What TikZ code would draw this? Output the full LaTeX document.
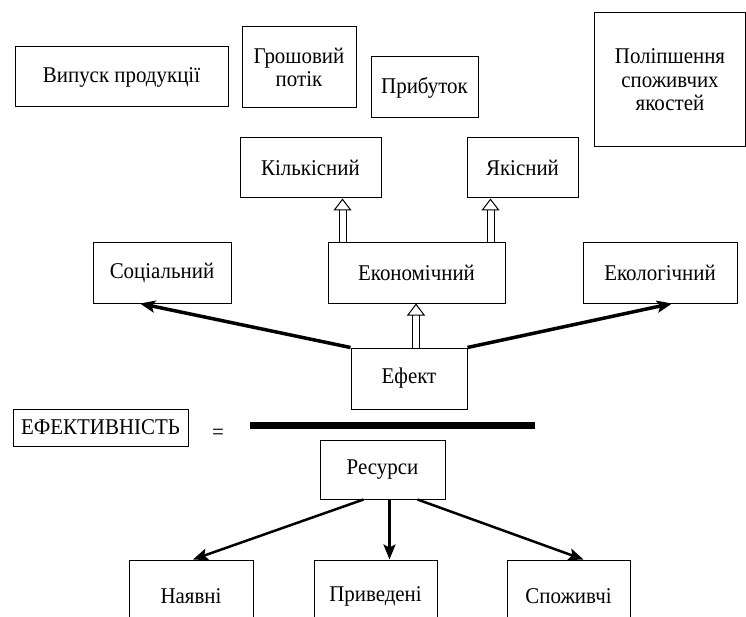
\documentclass[tikz,border=0pt]{standalone}
\usepackage{fontspec}
\setmainfont[FakeStretch=0.93]{Liberation Serif}
\usetikzlibrary{arrows.meta}

\begin{document}
\begin{tikzpicture}[x=1pt,y=-1pt,
  box/.style={draw,line width=1pt,inner sep=0pt,align=center,font=\fontsize{22.5}{23.5}\selectfont},
  big arrow/.style={line width=3.5pt,-{Stealth[length=15pt,width=12pt,inset=3pt]}},
  thin arrow/.style={line width=2.5pt,-{Stealth[length=15pt,width=12pt,inset=3pt]}},
  hollow arrow/.style={double,double distance=6pt,line width=1pt,
    -{Triangle[open,length=12pt,width=18pt,line width=1pt]}}]
  \useasboundingbox (0,0) rectangle (746,617);
  \clip (0,0) rectangle (746,617);
  %top row
  \node[box,minimum width=213,minimum height=60] (vypusk) at (121.5,77) {Випуск продукції};
  \node[box,minimum width=114,minimum height=81] (potik) at (299,67.5) {Грошовий\\потік};
  \node[box,minimum width=107,minimum height=61] (prybutok) at (424.5,87.5) {Прибуток};
  \node[box,minimum width=151,minimum height=134] (yakosti) at (670,80) {Поліпшення\\споживчих\\якостей};
  %economic effect
  \node[box,minimum width=141,minimum height=60] (kilk) at (310.5,168) {Кількісний};
  \node[box,minimum width=111,minimum height=60] (yak) at (522.5,168) {Якісний};
  \node[box,minimum width=138,minimum height=60] (soc) at (162,273) {Соціальний};
  \node[box,minimum width=177,minimum height=60] (econ) at (416.5,273) {Економічний};
  \node[box,minimum width=154,minimum height=60] (ekol) at (660,273) {Екологічний};
  \node[box,minimum width=116,minimum height=61] (efekt) at (409,378.5) {Ефект};
  \draw[big arrow] (efekt.north west) -- ([xshift=-22pt]soc.south);
  \draw[big arrow] (efekt.north east) -- ([xshift=12pt]ekol.south);
  \draw[hollow arrow] ([xshift=7pt]efekt.north) -- ([xshift=7pt]efekt.north |- econ.south);
  \draw[hollow arrow] ([xshift=15pt]econ.north west) -- ([xshift=15pt]econ.north west |- kilk.south);
  \draw[hollow arrow] ([xshift=-15pt]econ.north east) -- ([xshift=-15pt]econ.north east |- yak.south);
  %fraction
  \node[box,minimum width=175,minimum height=37] (efektyvnist) at (100.5,427.5) {ЕФЕКТИВНІСТЬ};
  \node[font=\fontsize{22.5}{23.5}\selectfont] (rivne) at (218,434) {=};
  \coordinate (bar-l) at (250,425);
  \coordinate (bar-r) at (535,425);
  \draw[line width=7pt] (bar-l) -- (bar-r);
  %resources
  \node[box,minimum width=125,minimum height=59] (resursy) at (382.5,469.5) {Ресурси};
  \node[box,minimum width=124,minimum height=72] (nayavni) at (191,596) {Наявні};
  \node[box,minimum width=123,minimum height=72] (pryvedeni) at (375.5,596) {Приведені};
  \node[box,minimum width=123,minimum height=72] (spozhyvchi) at (568.5,596) {Споживчі};
  \draw[thin arrow] ([xshift=-19pt]resursy.south) -- ([xshift=2pt]nayavni.north);
  \draw[thin arrow] ([xshift=7pt]resursy.south) -- ([xshift=7pt]resursy.south |- pryvedeni.north);
  \draw[thin arrow] ([xshift=35pt]resursy.south) -- ([xshift=15pt]spozhyvchi.north);
\end{tikzpicture}
\end{document}
